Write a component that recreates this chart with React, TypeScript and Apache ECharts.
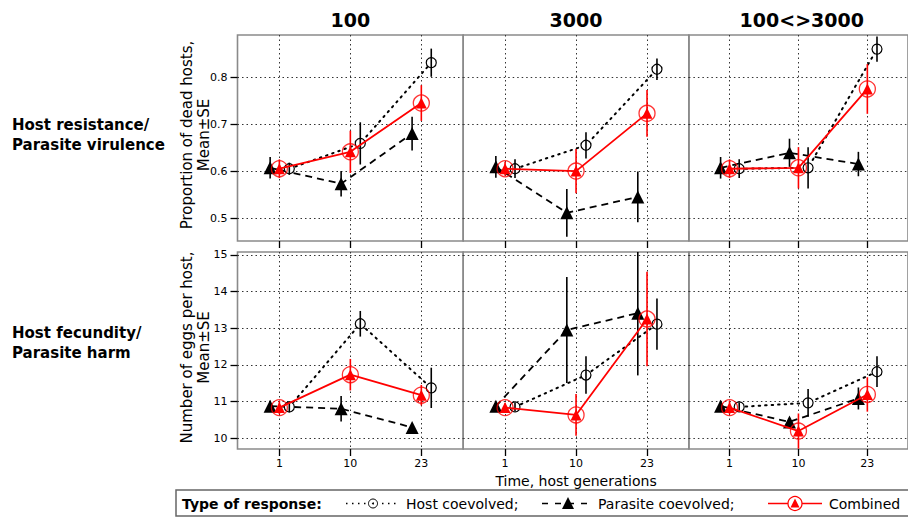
import { useEffect, useRef } from "react";
import * as echarts from "echarts";

// ---------- data ----------
const timeLabels = ["1", "10", "23"];
const timePositions = [1, 2, 3];
const treatments = ["100", "3000", "100<>3000"];
const rowLabels = ["Host resistance/\nParasite virulence", "Host fecundity/\nParasite harm"];
const rowAxisNames = ["Proportion of dead hosts,\nMean±SE", "Number of eggs per host,\nMean±SE"];
const deadTicks = [0.5, 0.6, 0.7, 0.8];
const eggTicks = [10, 11, 12, 13, 14, 15];
const legendNames = ["Host coevolved;", "Parasite coevolved;", "Combined"];

// Proportion of dead hosts (per treatment: 100, 3000, 100<>3000; per time: 1, 10, 23)
const hostDead = [[0.606, 0.66, 0.832], [0.606, 0.656, 0.818], [0.606, 0.608, 0.861]];
const hostDeadSE = [[0.013, 0.045, 0.03], [0.02, 0.028, 0.023], [0.02, 0.044, 0.027]];
const parasiteDead = [[0.608, 0.574, 0.681], [0.61, 0.512, 0.546], [0.608, 0.64, 0.616]];
const parasiteDeadSE = [[0.023, 0.027, 0.036], [0.023, 0.051, 0.054], [0.023, 0.03, 0.026]];
const combinedDead = [[0.606, 0.642, 0.746], [0.606, 0.601, 0.724], [0.606, 0.608, 0.776]];
const combinedDeadSE = [[0.02, 0.045, 0.038], [0.015, 0.047, 0.05], [0.02, 0.044, 0.053]];

// Number of eggs per host
const hostEggs = [[10.85, 13.12, 11.37], [10.85, 11.72, 13.11], [10.85, 10.96, 11.81]];
const hostEggsSE = [[0.15, 0.35, 0.55], [0.12, 0.51, 0.7], [0.12, 0.38, 0.42]];
const parasiteEggs = [[10.87, 10.8, 10.29], [10.87, 12.95, 13.41], [10.87, 10.44, 11.08]];
const parasiteEggsSE = [[0.15, 0.35, 0.05], [0.12, 1.45, 1.7], [0.15, 0.1, 0.3]];
const combinedEggs = [[10.83, 11.73, 11.17], [10.83, 10.63, 13.25], [10.83, 10.19, 11.19]];
const combinedEggsSE = [[0.18, 0.43, 0.28], [0.12, 0.57, 1.29], [0.18, 0.48, 0.47]];

// ---------- style constants ----------
const FONT = '"DejaVu Sans", Verdana, sans-serif';
const RED = "#ff0000";
const HOST_DX = 0.14;
const PARA_DX = -0.13;
const COL_LEFT = 237.5;
const COL_W = 225.7;

const rows = [
  {
    host: hostDead, hostSE: hostDeadSE, para: parasiteDead, paraSE: parasiteDeadSE,
    comb: combinedDead, combSE: combinedDeadSE, ticks: deadTicks,
    min: 0.452, max: 0.891, top: 35, height: 206, fmt: (v: number) => v.toFixed(1),
  },
  {
    host: hostEggs, hostSE: hostEggsSE, para: parasiteEggs, paraSE: parasiteEggsSE,
    comb: combinedEggs, combSE: combinedEggsSE, ticks: eggTicks,
    min: 9.7, max: 15.08, top: 252, height: 197, fmt: (v: number) => String(v),
  },
];

function errRender(color: string, width: number) {
  return (params: any, api: any) => {
    const p1 = api.coord([api.value(0), api.value(1)]);
    const p2 = api.coord([api.value(0), api.value(2)]);
    return {
      type: "line",
      shape: { x1: p1[0], y1: p1[1], x2: p2[0], y2: p2[1] },
      style: { stroke: color, lineWidth: width },
    };
  };
}

function buildOption() {
  const grid: any[] = [];
  const xAxis: any[] = [];
  const yAxis: any[] = [];
  const series: any[] = [];
  const splitStyle = { type: [1.5, 3], color: "#333", width: 1 };

  rows.forEach((row, r) => {
    treatments.forEach((_, c) => {
      const i = r * 3 + c;
      grid.push({
        left: COL_LEFT + c * COL_W, top: row.top, width: COL_W, height: row.height,
        show: true, borderColor: "#8a8a8a", borderWidth: 1.6, backgroundColor: "transparent",
      });
      xAxis.push({
        gridIndex: i, type: "value", min: 0.41, max: 3.59,
        axisLine: { show: false },
        axisTick: { show: true, customValues: timePositions, length: 7, lineStyle: { color: "#000", width: 1.3 } },
        axisLabel: {
          show: r === 1, customValues: timePositions, fontSize: 11, color: "#000", margin: 9, fontFamily: FONT,
          formatter: (v: number) => timeLabels[timePositions.indexOf(Math.round(v))] ?? "",
        },
        splitLine: { show: true, lineStyle: splitStyle },
        name: i === 4 ? "Time, host generations" : "",
        nameLocation: "middle", nameGap: 25,
        nameTextStyle: { fontSize: 14, color: "#000", fontFamily: FONT },
      });
      yAxis.push({
        gridIndex: i, type: "value", min: row.min, max: row.max,
        axisLine: { show: false },
        axisTick: { show: c === 0, customValues: row.ticks, length: 7, lineStyle: { color: "#000", width: 1.3 } },
        axisLabel: {
          show: c === 0, customValues: row.ticks, fontSize: 11, color: "#000", margin: 10, fontFamily: FONT,
          formatter: (v: number) => row.fmt(v),
        },
        splitLine: { show: true, lineStyle: splitStyle },
      });

      const mk = (vals: number[], dx: number) => timePositions.map((t, k) => [t + dx, vals[k]]);
      const mkErr = (vals: number[], se: number[], dx: number) =>
        timePositions.map((t, k) => [t + dx, vals[k] - se[k], vals[k] + se[k]]);

      series.push({
        name: legendNames[0], type: "line", xAxisIndex: i, yAxisIndex: i, z: 2,
        data: mk(row.host[c], HOST_DX), symbol: "circle", symbolSize: 10,
        itemStyle: { color: "#fff", borderColor: "#000", borderWidth: 1.2 },
        lineStyle: { color: "#000", width: 2, type: [1.5, 5], cap: "round" },
      });
      series.push({
        type: "custom", xAxisIndex: i, yAxisIndex: i, z: 3, clip: true,
        data: mkErr(row.host[c], row.hostSE[c], HOST_DX),
        encode: { x: 0, y: [1, 2] }, renderItem: errRender("#000", 1.6),
      });
      series.push({
        name: legendNames[1], type: "line", xAxisIndex: i, yAxisIndex: i, z: 2,
        data: mk(row.para[c], PARA_DX), symbol: "triangle", symbolSize: 13,
        itemStyle: { color: "#000" },
        lineStyle: { color: "#000", width: 1.8, type: [7, 5] },
      });
      series.push({
        type: "custom", xAxisIndex: i, yAxisIndex: i, z: 3, clip: true,
        data: mkErr(row.para[c], row.paraSE[c], PARA_DX),
        encode: { x: 0, y: [1, 2] }, renderItem: errRender("#000", 1.6),
      });
      series.push({
        name: legendNames[2], type: "line", xAxisIndex: i, yAxisIndex: i, z: 4,
        data: mk(row.comb[c], 0), symbol: "triangle", symbolSize: 11,
        itemStyle: { color: RED },
        lineStyle: { color: RED, width: 1.8 },
      });
      series.push({
        type: "custom", xAxisIndex: i, yAxisIndex: i, z: 5, clip: true,
        data: mkErr(row.comb[c], row.combSE[c], 0),
        encode: { x: 0, y: [1, 2] }, renderItem: errRender(RED, 1.6),
      });
      series.push({
        type: "scatter", xAxisIndex: i, yAxisIndex: i, z: 5,
        data: mk(row.comb[c], 0), symbol: "circle", symbolSize: 16,
        itemStyle: { color: "rgba(0,0,0,0)", borderColor: RED, borderWidth: 1.3 },
      });
    });
  });

  const graphic: any[] = [];
  // panel titles
  treatments.forEach((t, c) => {
    graphic.push({
      type: "text", x: COL_LEFT + c * COL_W + COL_W / 2, y: 20,
      style: { text: t, font: `bold 19px ${FONT}`, fill: "#000", align: "center", verticalAlign: "middle" },
    });
  });
  // row labels and y-axis names
  rows.forEach((row, r) => {
    const cy = row.top + row.height / 2 - 3;
    graphic.push({
      type: "text", x: 12, y: r === 0 ? 135 : 343,
      style: { text: rowLabels[r], font: `bold 15px ${FONT}`, fill: "#000", align: "left", verticalAlign: "middle", lineHeight: 20 },
    });
    graphic.push({
      type: "text", x: 195, y: cy, rotation: Math.PI / 2,
      style: { text: rowAxisNames[r], font: `15px ${FONT}`, fill: "#000", align: "center", verticalAlign: "middle", lineHeight: 17 },
    });
  });
  // legend box
  const ly = 503.5;
  const tri = (cx: number, cy: number, s: number) => [[cx, cy - s * 0.55], [cx - s / 2, cy + s * 0.45], [cx + s / 2, cy + s * 0.45]];
  graphic.push(
    { type: "rect", shape: { x: 176, y: 490, width: 760, height: 26 }, style: { fill: "#fff", stroke: "#666", lineWidth: 1.5 }, z: 0 },
    { type: "text", x: 182, y: ly, style: { text: "Type of response:", font: `bold 14px ${FONT}`, fill: "#000", verticalAlign: "middle" }, z: 1 },
    { type: "line", shape: { x1: 346, y1: ly, x2: 400, y2: ly }, style: { stroke: "#000", lineWidth: 1.5, lineDash: [1.5, 4.5] }, z: 1 },
    { type: "circle", shape: { cx: 373, cy: ly, r: 4.5 }, style: { fill: "#fff", stroke: "#000", lineWidth: 1 }, z: 2 },
    { type: "circle", shape: { cx: 373, cy: ly, r: 1 }, style: { fill: "#000" }, z: 3 },
    { type: "text", x: 406, y: ly, style: { text: legendNames[0], font: `14px ${FONT}`, fill: "#000", verticalAlign: "middle" }, z: 1 },
    { type: "line", shape: { x1: 542, y1: ly, x2: 592, y2: ly }, style: { stroke: "#000", lineWidth: 1.5, lineDash: [6, 7] }, z: 1 },
    { type: "polygon", shape: { points: tri(568, ly, 12) }, style: { fill: "#000" }, z: 2 },
    { type: "text", x: 598, y: ly, style: { text: legendNames[1], font: `14px ${FONT}`, fill: "#000", verticalAlign: "middle" }, z: 1 },
    { type: "line", shape: { x1: 768, y1: ly, x2: 822, y2: ly }, style: { stroke: RED, lineWidth: 1.5 }, z: 1 },
    { type: "circle", shape: { cx: 795, cy: ly, r: 7 }, style: { fill: "#fff", stroke: RED, lineWidth: 1.2 }, z: 2 },
    { type: "polygon", shape: { points: tri(795, ly, 9) }, style: { fill: RED }, z: 3 },
    { type: "text", x: 829, y: ly, style: { text: legendNames[2], font: `14px ${FONT}`, fill: "#000", verticalAlign: "middle" }, z: 1 },
  );

  return {
    animation: false,
    backgroundColor: "#fff",
    textStyle: { fontFamily: FONT },
    grid, xAxis, yAxis, series, graphic,
  };
}

export default function App() {
  const ref = useRef<HTMLDivElement>(null);
  useEffect(() => {
    if (!ref.current) return;
    const chart = echarts.init(ref.current, undefined, { renderer: "svg" });
    chart.setOption(buildOption() as any);
    return () => chart.dispose();
  }, []);
  return <div ref={ref} style={{ position: "absolute", left: 0, top: 0, width: 908, height: 518 }} />;
}
